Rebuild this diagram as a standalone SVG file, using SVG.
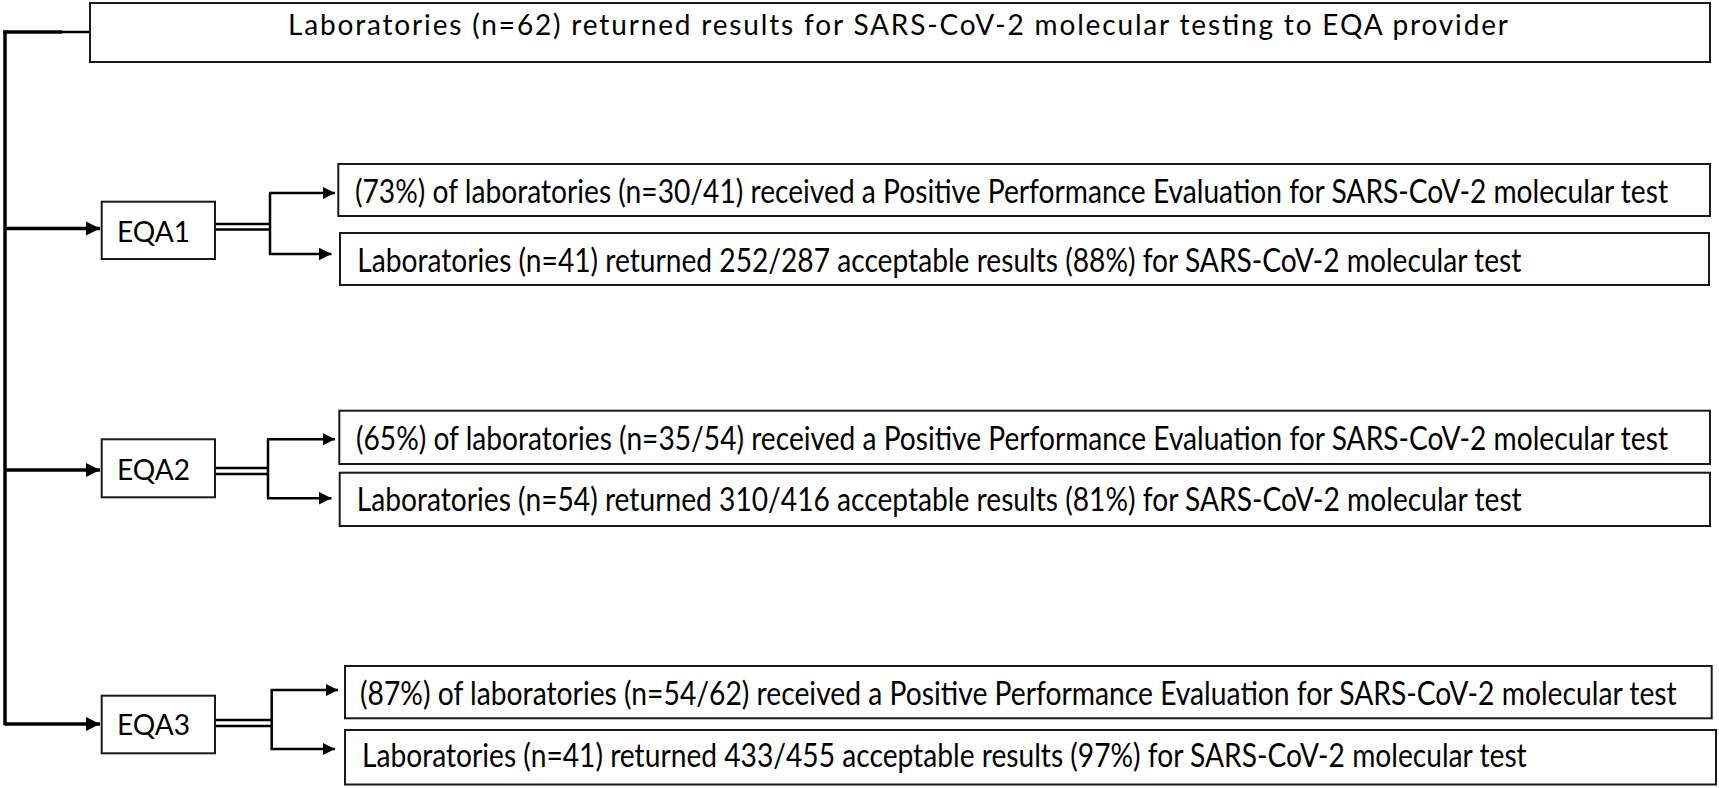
<svg xmlns="http://www.w3.org/2000/svg" width="1719" height="788" viewBox="0 0 1719 788">
<defs>
<style>
.box{fill:#fff;stroke:#1a1a1a;stroke-width:2}
.t{font-family:Lato,"Open Sans","Liberation Sans",sans-serif;fill:#000}
.bt{font-size:27px}
.tt{font-size:28px}
.et{font-size:29px}
.thick{stroke:#000;stroke-width:3.5;fill:none}
.thin{stroke:#000;stroke-width:2.5;fill:none}
</style>
<marker id="big" viewBox="0 0 10 10" refX="10" refY="5" markerWidth="4" markerHeight="4.5" markerUnits="strokeWidth" orient="auto"><path d="M0,0 L10,5 L0,10 z" fill="#000"/></marker>
<marker id="sm" viewBox="0 0 10 10" refX="10" refY="5" markerWidth="5" markerHeight="5" markerUnits="strokeWidth" orient="auto"><path d="M0,0 L10,5 L0,10 z" fill="#000"/></marker>
</defs>
<rect width="1719" height="788" fill="#fff"/>
<g id="connectors">
<path class="thick" d="M5,30.5 V725.5"/>
<path class="thick" d="M3.3,32 H62"/>
<path class="thin" d="M60,32 H90"/>
<path class="thick" d="M5,228.5 H100" marker-end="url(#big)"/>
<path class="thick" d="M5,470 H100" marker-end="url(#big)"/>
<path class="thick" d="M5,724 H100" marker-end="url(#big)"/>
<path class="thin" d="M215,224 H270 M215,229.5 H270 M270,193 V254"/>
<path class="thin" d="M269,193 H335" marker-end="url(#sm)"/>
<path class="thin" d="M269,254 H331.5" marker-end="url(#sm)"/>
<path class="thin" d="M215,468 H268 M215,474 H268 M268,439.3 V498.3"/>
<path class="thin" d="M267,439.3 H335" marker-end="url(#sm)"/>
<path class="thin" d="M267,498.3 H331.5" marker-end="url(#sm)"/>
<path class="thin" d="M215,720 H271.7 M215,726 H271.7 M271.7,690 V749"/>
<path class="thin" d="M270.5,690 H338" marker-end="url(#sm)"/>
<path class="thin" d="M270.5,749 H335" marker-end="url(#sm)"/>
</g>
<g id="top">
<rect class="box" x="90" y="3" width="1620" height="59"/>
<text class="t tt" x="288" y="35" textLength="1220" lengthAdjust="spacing">Laboratories (n=62) returned  results for SARS-CoV-2  molecular testing to EQA provider</text>
</g>
<g id="eqa1">
<rect class="box" x="101.7" y="201.7" width="113.3" height="57.3"/>
<text class="t et" x="117" y="242" textLength="73" lengthAdjust="spacingAndGlyphs">EQA1</text>
</g>
<g id="eqa1-perf">
<rect class="box" x="338.3" y="164" width="1371.7" height="52"/>
<text class="t bt" transform="translate(355,203.3) scale(1,1.22)" textLength="1313" lengthAdjust="spacingAndGlyphs">(73%) of laboratories (n=30/41) received a Positive Performance Evaluation for SARS-CoV-2 molecular test</text>
</g>
<g id="eqa1-res">
<rect class="box" x="340" y="233" width="1369" height="52"/>
<text class="t bt" transform="translate(357.3,271.7) scale(1,1.22)" textLength="1164" lengthAdjust="spacingAndGlyphs">Laboratories (n=41) returned 252/287 acceptable results (88%) for SARS-CoV-2 molecular test</text>
</g>
<g id="eqa2">
<rect class="box" x="101.7" y="439.3" width="113.3" height="58"/>
<text class="t et" x="117" y="480" textLength="73" lengthAdjust="spacingAndGlyphs">EQA2</text>
</g>
<g id="eqa2-perf">
<rect class="box" x="339.3" y="410.7" width="1370.7" height="53.3"/>
<text class="t bt" transform="translate(356,450) scale(1,1.22)" textLength="1312" lengthAdjust="spacingAndGlyphs">(65%) of laboratories (n=35/54) received a Positive Performance Evaluation for SARS-CoV-2 molecular test</text>
</g>
<g id="eqa2-res">
<rect class="box" x="339.7" y="472.7" width="1370.3" height="53.3"/>
<text class="t bt" transform="translate(356.7,511) scale(1,1.22)" textLength="1165" lengthAdjust="spacingAndGlyphs">Laboratories (n=54) returned 310/416 acceptable results (81%) for SARS-CoV-2 molecular test</text>
</g>
<g id="eqa3">
<rect class="box" x="101.7" y="695.7" width="113.3" height="57.6"/>
<text class="t et" x="117" y="735" textLength="73" lengthAdjust="spacingAndGlyphs">EQA3</text>
</g>
<g id="eqa3-perf">
<rect class="box" x="345" y="666" width="1366.7" height="52.3"/>
<text class="t bt" transform="translate(360,705) scale(1,1.22)" textLength="1316.7" lengthAdjust="spacingAndGlyphs">(87%) of laboratories (n=54/62) received a Positive Performance Evaluation for SARS-CoV-2 molecular test</text>
</g>
<g id="eqa3-res">
<rect class="box" x="345" y="730" width="1371" height="54.5"/>
<text class="t bt" transform="translate(362,767) scale(1,1.22)" textLength="1164.7" lengthAdjust="spacingAndGlyphs">Laboratories (n=41) returned 433/455 acceptable results (97%) for SARS-CoV-2 molecular test</text>
</g>
</svg>
